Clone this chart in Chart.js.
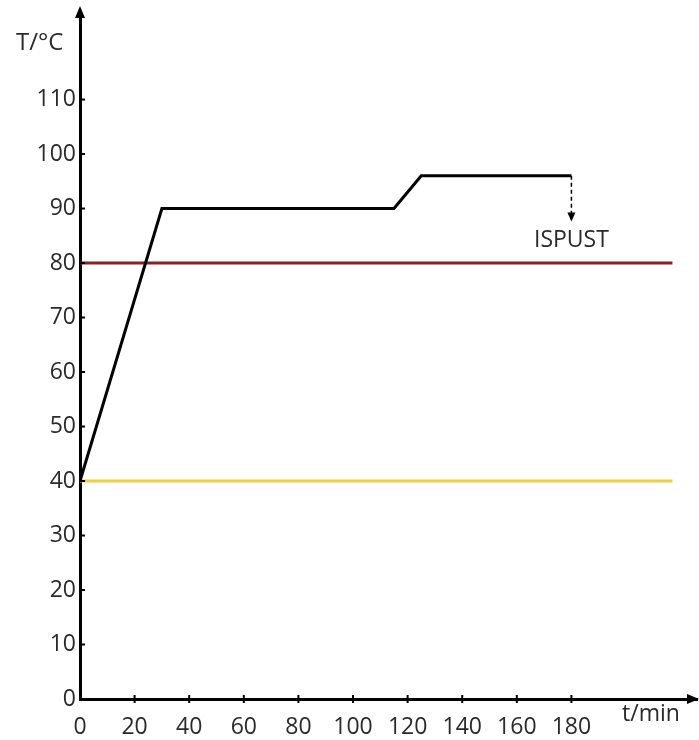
<!DOCTYPE html>
<html>
<head>
<meta charset="utf-8">
<script src="https://cdn.jsdelivr.net/npm/chart.js@4"></script>
<style>
  body { margin: 0; background: #fff; }
  #c { display: block; }
</style>
</head>
<body>
<canvas id="c" width="699" height="740"></canvas>
<script>
// data
const timeMin = [0, 30, 115, 125, 180];
const tempC = [40, 90, 90, 96, 96];
const drainX = [180, 180];
const drainY = [96, 88];
const redLevel = 80;
const yellowLevel = 40;
const levelEnd = 217;
const xTickLabels = [0, 20, 40, 60, 80, 100, 120, 140, 160, 180];
const yTickLabels = [0, 10, 20, 30, 40, 50, 60, 70, 80, 90, 100, 110];

const FONT = "'Open Sans', 'Noto Sans', sans-serif";

function pts(xs, ys) {
  return xs.map((x, i) => ({ x: x, y: ys[i] }));
}

const extras = {
  id: 'extras',
  afterDraw(chart) {
    const ctx = chart.ctx;
    const xs = chart.scales.x, ys = chart.scales.y;
    const x0 = xs.left, y0 = ys.bottom;
    ctx.save();
    ctx.fillStyle = '#000';
    ctx.strokeStyle = '#000';
    // axis arrows
    ctx.beginPath();
    ctx.moveTo(x0, 6);
    ctx.lineTo(x0 - 5, 18);
    ctx.lineTo(x0 + 5, 18);
    ctx.closePath();
    ctx.fill();
    ctx.lineWidth = 3;
    ctx.beginPath();
    ctx.moveTo(x0, ys.top);
    ctx.lineTo(x0, 14);
    ctx.stroke();
    ctx.beginPath();
    ctx.moveTo(xs.right + 2, y0);
    ctx.lineTo(xs.right - 10, y0 - 5);
    ctx.lineTo(xs.right - 10, y0 + 5);
    ctx.closePath();
    ctx.fill();
    // small tick marks
    ctx.lineWidth = 2;
    yTickLabels.forEach(v => {
      if (v === 0) return;
      const py = ys.getPixelForValue(v);
      ctx.beginPath();
      ctx.moveTo(x0, py);
      ctx.lineTo(x0 + 5, py);
      ctx.stroke();
    });
    xTickLabels.forEach(v => {
      if (v === 0) return;
      const px = xs.getPixelForValue(v);
      ctx.beginPath();
      ctx.moveTo(px, y0 - 4);
      ctx.lineTo(px, y0 + 4);
      ctx.stroke();
    });
    // arrowhead of the drain line
    const ax = xs.getPixelForValue(drainX[1]);
    const ay = ys.getPixelForValue(drainY[1]);
    ctx.beginPath();
    ctx.moveTo(ax, ay + 2);
    ctx.lineTo(ax - 4, ay - 7);
    ctx.lineTo(ax + 4, ay - 7);
    ctx.closePath();
    ctx.fill();
    // texts
    ctx.fillStyle = '#2a2a2a';
    ctx.font = '24px ' + FONT;
    ctx.textBaseline = 'middle';
    ctx.textAlign = 'left';
    ctx.fillText('T/°C', 16, 43);
    ctx.font = '23px ' + FONT;
    ctx.fillText('t/min', 622, 714);
    ctx.textAlign = 'center';
    ctx.fillText('ISPUST', ax, ay + 21);
    ctx.restore();
  }
};

new Chart(document.getElementById('c'), {
  type: 'line',
  data: {
    datasets: [
      {
        data: pts(timeMin, tempC),
        borderColor: '#000',
        borderWidth: 3,
        pointRadius: 0,
        tension: 0,
        order: 0
      },
      {
        data: pts(drainX, drainY),
        borderColor: '#000',
        borderWidth: 1.5,
        borderDash: [4, 3],
        pointRadius: 0,
        order: 0
      },
      {
        data: pts([0, levelEnd], [redLevel, redLevel]),
        borderColor: '#8b1f24',
        borderWidth: 3,
        pointRadius: 0,
        order: 2
      },
      {
        data: pts([0, levelEnd], [yellowLevel, yellowLevel]),
        borderColor: '#ecd040',
        borderWidth: 3,
        pointRadius: 0,
        order: 2
      }
    ]
  },
  options: {
    responsive: false,
    animation: false,
    layout: { padding: { top: 7, right: 2, left: 0, bottom: 0 } },
    plugins: { legend: { display: false }, tooltip: { enabled: false } },
    scales: {
      x: {
        type: 'linear',
        min: 0,
        max: 226,
        afterBuildTicks: s => { s.ticks = xTickLabels.map(v => ({ value: v })); },
        afterFit: s => { s.height = 41; },
        grid: { display: false, drawTicks: false },
        border: { display: true, color: '#000', width: 3 },
        ticks: {
          color: '#2a2a2a',
          padding: 15,
          maxRotation: 0,
          autoSkip: false,
          font: { size: 23, family: FONT }
        }
      },
      y: {
        type: 'linear',
        min: 0,
        max: 125,
        afterBuildTicks: s => { s.ticks = yTickLabels.map(v => ({ value: v })); },
        afterFit: s => { s.width = 80; },
        grid: { display: false, drawTicks: false },
        border: { display: true, color: '#000', width: 3 },
        ticks: {
          color: '#2a2a2a',
          padding: 4,
          autoSkip: false,
          font: { size: 23, family: FONT }
        }
      }
    }
  },
  plugins: [extras]
});
</script>
</body>
</html>
